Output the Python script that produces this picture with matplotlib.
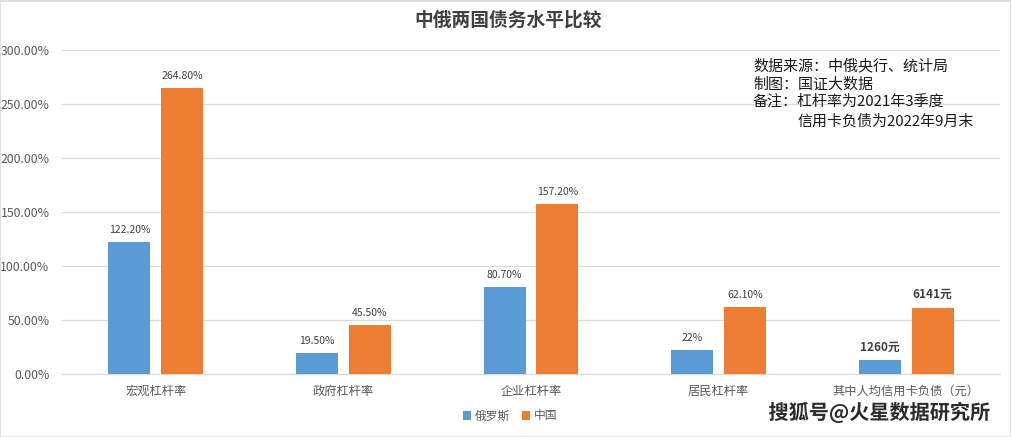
import matplotlib
matplotlib.use("Agg")
import matplotlib.pyplot as plt
import numpy as np
import matplotlib.patheffects as pe
from matplotlib.ticker import FuncFormatter, MultipleLocator

plt.rcParams['font.family'] = ['Noto Sans CJK SC', 'DejaVu Sans']

categories = ['宏观杠杆率', '政府杠杆率', '企业杠杆率', '居民杠杆率', '其中人均信用卡负债（元）']
series_names = ['俄罗斯', '中国']
russia = [122.2, 19.5, 80.7, 22.0, 12.60]
china = [264.8, 45.5, 157.2, 62.1, 61.41]
russia_labels = ['122.20%', '19.50%', '80.70%', '22%', '1260元']
china_labels = ['264.80%', '45.50%', '157.20%', '62.10%', '6141元']
title = '中俄两国债务水平比较'
note_lines = ['数据来源：中俄央行、统计局', '制图：国证大数据', '备注：杠杆率为2021年3季度', '信用卡负债为2022年9月末']
watermark = '搜狐号@火星数据研究所'

blue = '#5B9BD5'
orange = '#ED7D31'
txt = '#595959'

W, H = 1012, 437
fig = plt.figure(figsize=(W / 100, H / 100), dpi=100)
ax = fig.add_axes([62 / W, 1 - 374 / H, (1000 - 62) / W, (374 - 50) / H])

x = np.arange(len(categories))
bw = 0.224
off = 0.141
b1 = ax.bar(x - off, russia, bw, color=blue, label=series_names[0], zorder=3)
b2 = ax.bar(x + off, china, bw, color=orange, label=series_names[1], zorder=3)

for i in range(len(categories)):
    big = i == 4
    kw = dict(textcoords='offset points', ha='center', va='bottom',
              fontsize=8.5 if big else 7.5, color='#404040',
              fontweight='bold' if big else 'normal')
    ax.annotate(russia_labels[i], (x[i] - off, russia[i]), xytext=(0, 5), **kw)
    ax.annotate(china_labels[i], (x[i] + off, china[i]), xytext=(0, 5), **kw)

ax.set_xlim(-0.5, len(categories) - 0.5)
ax.set_ylim(0, 300)
ax.yaxis.set_major_locator(MultipleLocator(50))
ax.yaxis.set_major_formatter(FuncFormatter(lambda v, p: f'{v:.2f}%'))
ax.grid(axis='y', color='#D9D9D9', linewidth=0.9, zorder=0)
ax.set_xticks(x)
ax.set_xticklabels(categories)
ax.tick_params(axis='both', length=0, labelsize=8.8, labelcolor=txt)
ax.tick_params(axis='x', pad=8)
ax.tick_params(axis='y', pad=9)
for s in ['top', 'right', 'left']:
    ax.spines[s].set_visible(False)
ax.spines['bottom'].set_color('#D9D9D9')

fig.text(508 / W, 1 - 20 / H, title, ha='center', va='center', fontsize=13.5, fontweight='bold', color='#404040')

ys = [66, 84, 102, 121]
xs = [753, 753, 753, 798]
for line, xx, yy in zip(note_lines, xs, ys):
    fig.text(xx / W, 1 - yy / H, line, ha='left', va='center', fontsize=10.8, color='#1a1a1a')

leg = fig.legend(handles=[b1, b2], labels=series_names, loc='center', bbox_to_anchor=(510 / W, 1 - 416 / H),
                 ncol=2, frameon=False, fontsize=8.5, handlelength=0.7, handleheight=0.7, columnspacing=1.0,
                 handletextpad=0.3)
for t in leg.get_texts():
    t.set_color(txt)

fig.text(990 / W, 1 - 413 / H, watermark, ha='right', va='center', fontsize=14.5, fontweight='bold', color='#2b2b2b',
         path_effects=[pe.withStroke(linewidth=3, foreground='white')])

border = plt.Rectangle((0.5 / W, 0.5 / H), 1 - 1.5 / W, 1 - 1.5 / H, transform=fig.transFigure, fill=False,
                       edgecolor='#D9D9D9', linewidth=1.2)
fig.patches.append(border)

fig.savefig('out.png', dpi=100)
